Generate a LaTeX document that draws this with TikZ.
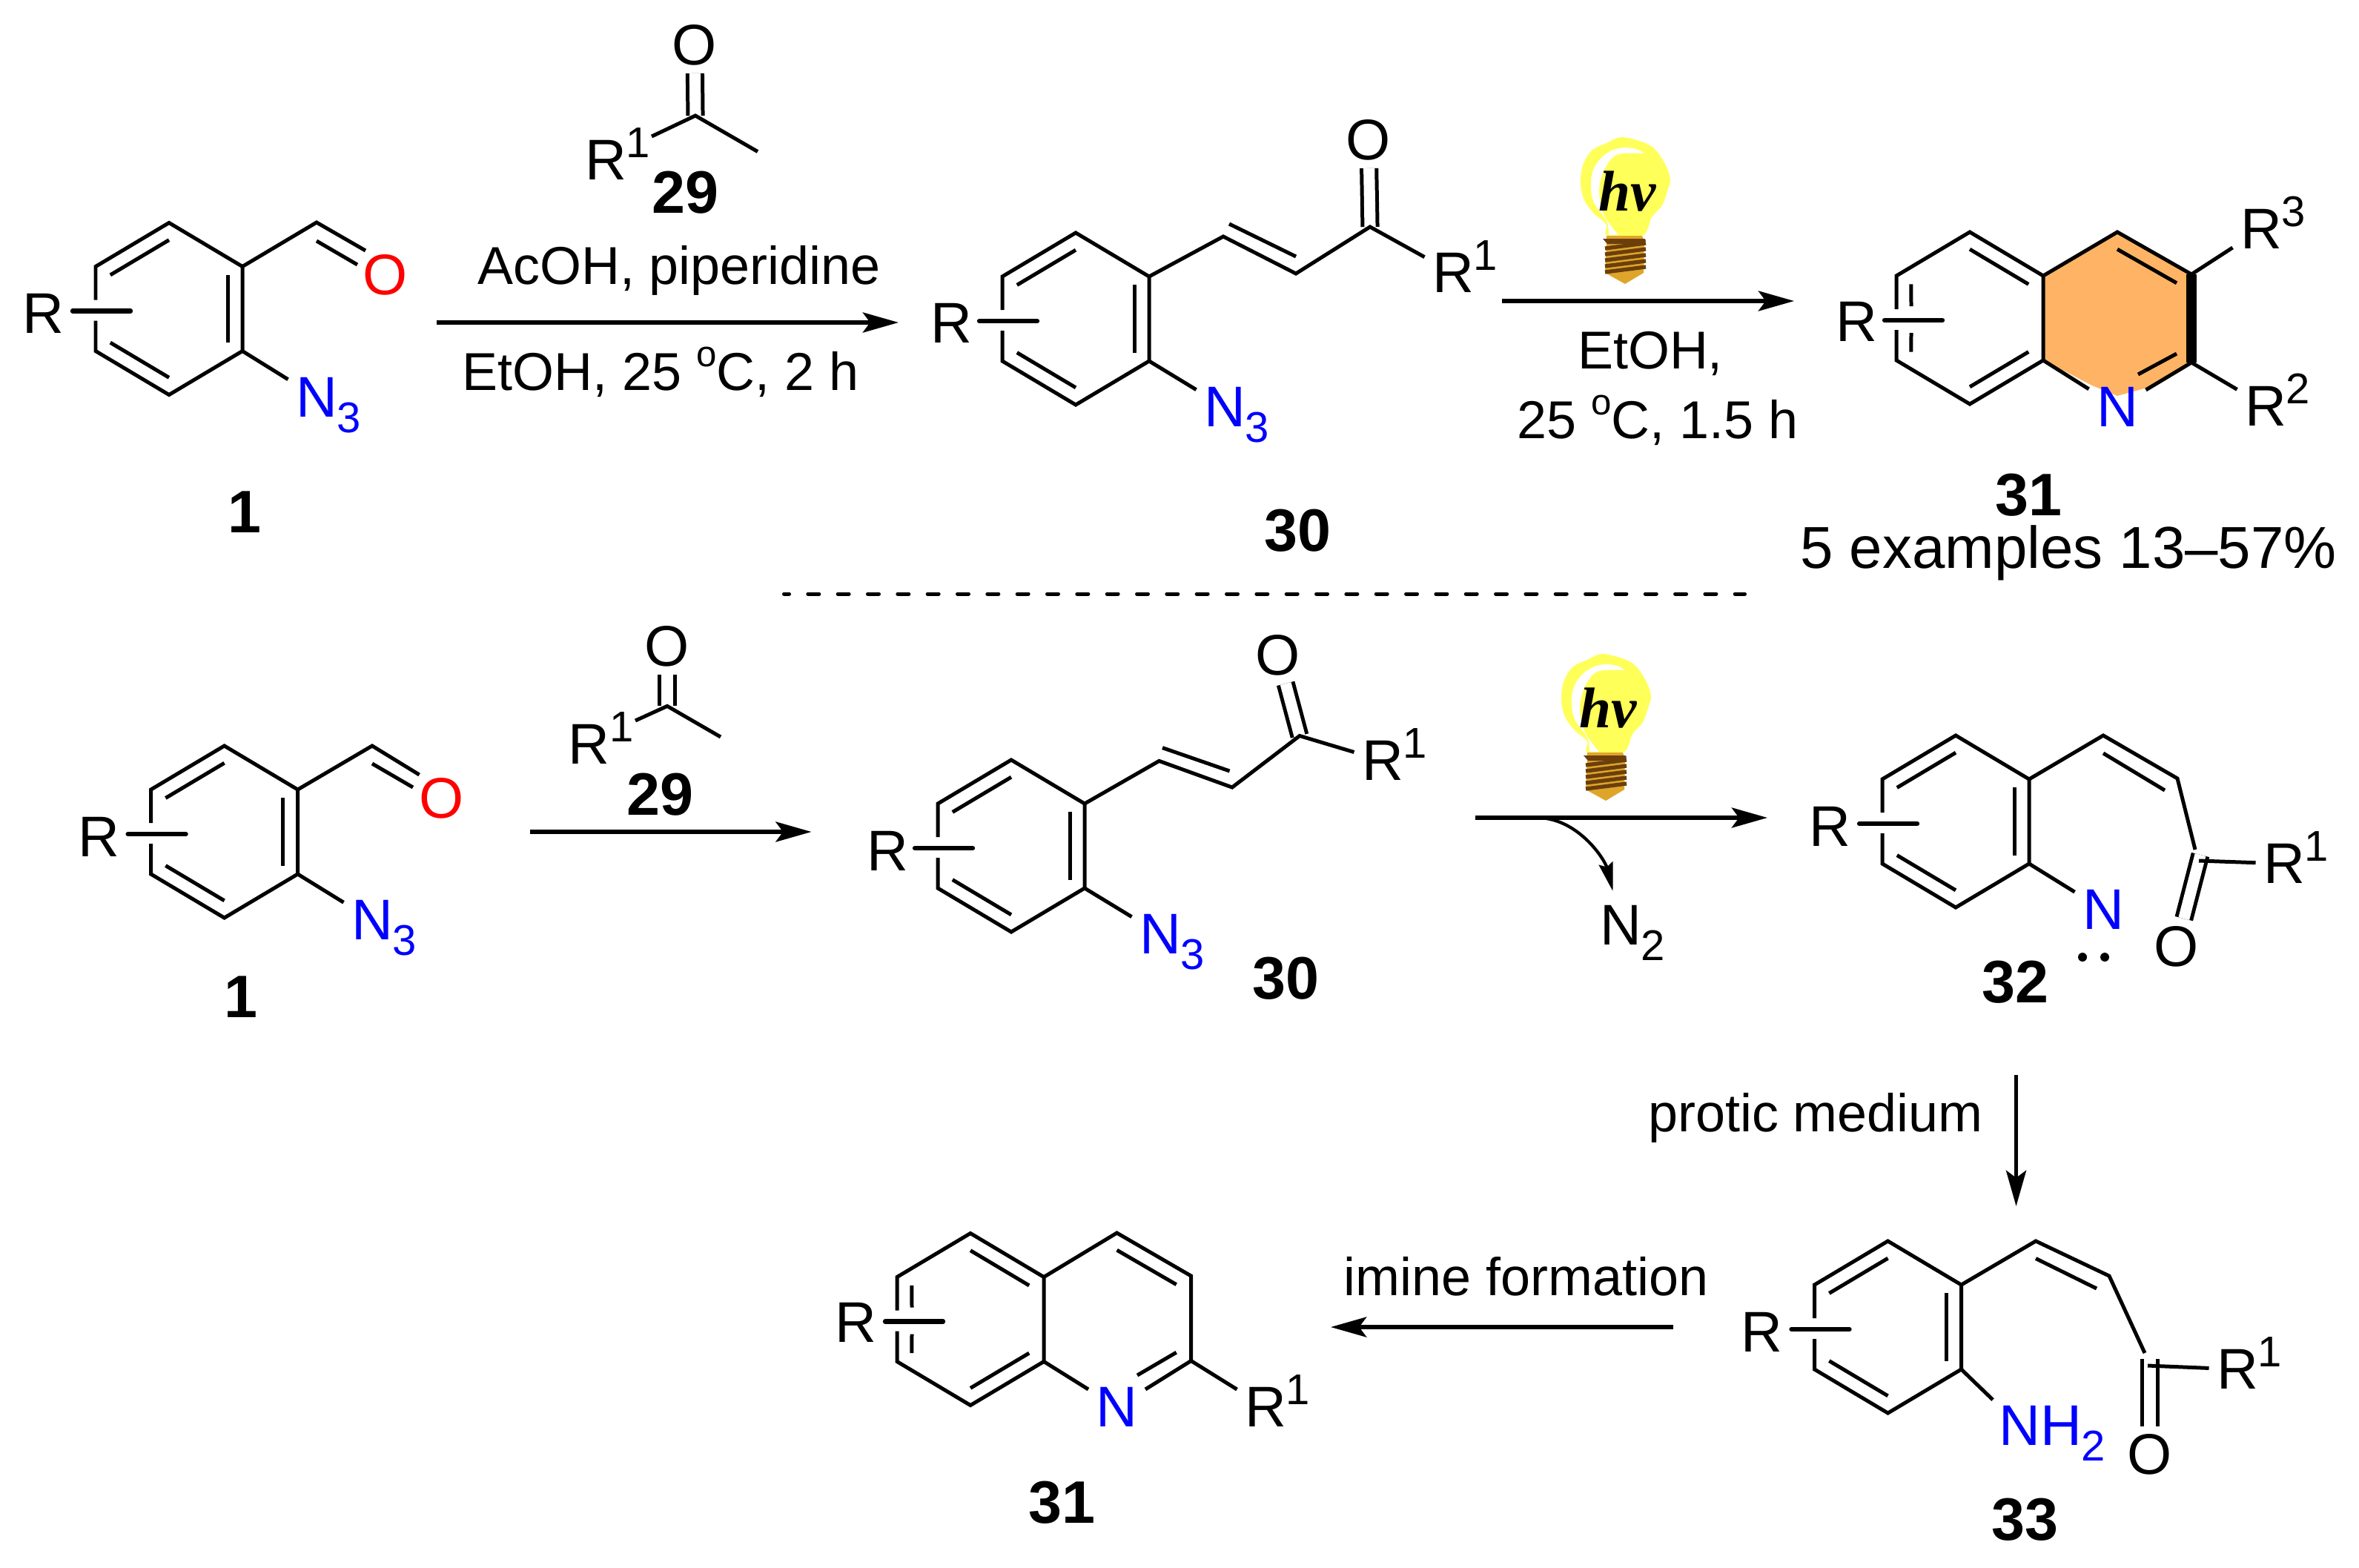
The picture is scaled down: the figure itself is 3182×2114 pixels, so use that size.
\documentclass[tikz,border=0pt]{standalone}
\usepackage{fontspec}
\setmainfont{Liberation Sans}
\newfontfamily\bulbfont{Liberation Serif}
\usetikzlibrary{arrows.meta,calc}
\definecolor{azide}{RGB}{0,0,255}
\definecolor{carbonyl}{RGB}{255,0,0}
\definecolor{quinoline}{RGB}{254,180,100}
\definecolor{bulbglass}{RGB}{255,255,90}
\definecolor{bulbgold}{RGB}{223,165,42}
\definecolor{bulbbrown}{RGB}{107,63,10}
\tikzstyle{bond}=[line width=1.42pt]
\tikzstyle{rbond}=[line width=1.8pt, line cap=round]
\tikzstyle{cbond}=[bond, double, double distance=4.3pt]
\tikzstyle{atom}=[font=\fontsize{22}{26}\selectfont, inner sep=0pt, outer sep=3pt]
\tikzstyle{nitrogen}=[atom, text=azide]
\tikzstyle{oxygen}=[atom, text=carbonyl]
\tikzstyle{cpd}=[font=\fontsize{23}{26}\selectfont\bfseries, inner sep=0pt]
\tikzstyle{cond}=[font=\fontsize{20.45}{24}\selectfont, inner sep=0pt, anchor=base]
\tikzstyle{yield}=[font=\fontsize{22.7}{26}\selectfont, inner sep=0pt, anchor=base]
\tikzstyle{rxn}=[line width=1.5pt, -{Stealth[length=13.7pt, width=7.7pt, inset=2.8pt]}]
\tikzstyle{loss}=[line width=1.2pt, -{Stealth[length=11pt, width=5.5pt, inset=1.5pt]}]
\tikzstyle{pair}=[circle, fill=black, minimum size=3.4pt, inner sep=0pt]
\newcommand{\supr}[1]{\rlap{\smash{\raisebox{8.5pt}{\fontsize{16.5}{16.5}\selectfont #1}}}}
\newcommand{\subr}[1]{\rlap{\smash{\raisebox{-6pt}{\fontsize{16.5}{16.5}\selectfont #1}}}}
\newcommand{\degc}{\raisebox{9pt}{\fontsize{14}{14}\selectfont o}C}
\newcommand{\innerbond}[3]{\draw[bond] ($(#1)!.2!(#3)$) -- ($(#2)!.2!(#3)$);}
\newcommand{\arene}[4]{
    \coordinate (#1c) at (#2,#3);
    \coordinate (#1t) at (#2,#3-116);
    \coordinate (#1u) at (#2+99,#3-57);
    \coordinate (#1d) at (#2+99,#3+57);
    \coordinate (#1b) at (#2,#3+116);
    \coordinate (#1l) at (#2-99,#3+57);
    \coordinate (#1v) at (#2-99,#3-57);
    \coordinate (#1p) at (#2-99,#3-12);
    \coordinate (#1q) at (#2-99,#3+16);
    \coordinate (#1e) at (#2-130+#4,#3+3);
    \coordinate (#1f) at (#2-52+#4,#3+3);
    \draw[bond] (#1p) -- (#1v) -- (#1t) -- (#1u) -- (#1d) -- (#1b) -- (#1l) -- (#1q);
    \draw[rbond] (#1e) -- (#1f);
}
\tikzset{
    bulb/.pic={
        \fill[bulbglass] plot[smooth cycle, tension=0.55] coordinates {(-5,-100) (25,-93) (41,-83) (55,-62) (61,-43) (58,-30) (50,-8) (36,8) (23,33) (-24,33) (-25,18) (-42,3) (-55,-15) (-60,-37) (-57,-62) (-45,-82) (-25,-92)};
        \fill[white] plot[smooth, tension=0.6] coordinates {(-9,32) (-27,8) (-34,-15) (-34,-38) (-25,-62) (-9,-77) (26,-78)} -- plot[smooth, tension=0.6] coordinates {(18,-83) (-2,-86) (-25,-78) (-42,-58) (-46,-35) (-42,-12) (-25,13) (-22,32)} -- cycle;
        \fill[bulbgold] (-25,33) -- (23,33) -- (26,42) -- (25,83) -- (0,98) -- (-27,83) -- (-25,42) -- cycle;
        \fill[bulbbrown] (-30,37) -- (26,37) -- (28,39) -- (25,44) -- (-24,44) -- cycle;
        \foreach \t in {50,58,66,74,82} {
            \draw[bulbbrown, line width=1.5pt] (-27,\t) -- (28,\t-7);
        }
        \node[font=\fontsize{22}{26}\selectfont\bulbfont\bfseries\itshape, inner sep=0pt] (-hv) at (3,-27) {hv};
    }
}
\begin{document}
\begin{tikzpicture}[x=0.01cm, y=-0.01cm]
    \path[use as bounding box] (0,0) rectangle (3182,2114);
    \fill[quinoline] (2757,371) -- (2856,313) -- (2956,370) -- (2956,489) -- (2896,523) -- (2856,534) -- (2822,520) -- (2757,486) -- cycle;

    \arene{a1}{228}{416.5}{0}
    \innerbond{a1v}{a1t}{a1c}
    \innerbond{a1u}{a1d}{a1c}
    \innerbond{a1l}{a1b}{a1c}
    \node[atom] (a1r) at (58,423) {R};
    \coordinate (a1k) at (427,300);
    \coordinate (a1x) at (493,338);
    \coordinate (a1y) at (427,325);
    \coordinate (a1z) at (482,357);
    \node[oxygen] (a1o) at (520,371) {O};
    \node[nitrogen] (a1n) at (427,535.6) {N\subr{3}};
    \draw[bond] (a1u) -- (a1k) -- (a1x);
    \draw[bond] (a1y) -- (a1z);
    \draw[bond] (a1d) -- (a1n);
    \node[cpd] (a1l1) at (330,691) {1};

    \coordinate (a29c) at (938,156);
    \coordinate (a29m) at (1022,204.5);
    \coordinate (a29e) at (879,184);
    \node[atom] (a29o) at (937,61) {O};
    \node[atom] (a29r) at (817,216) {R\supr{1}};
    \draw[cbond] (a29c) -- (a29o);
    \draw[bond] (a29e) -- (a29c) -- (a29m);
    \node[cpd] (a29l) at (924,260) {29};

    \node[cond] (c1) at (916,383) {AcOH, piperidine};
    \node[cond] (c2) at (891,526) {EtOH, 25 \degc, 2 h};
    \coordinate (s1) at (589,435);
    \coordinate (t1) at (1212,435);
    \draw[rxn] (s1) -- (t1);

    \arene{a30}{1451}{430}{0}
    \innerbond{a30v}{a30t}{a30c}
    \innerbond{a30u}{a30d}{a30c}
    \innerbond{a30l}{a30b}{a30c}
    \node[atom] (a30r) at (1283,436) {R};
    \coordinate (a30g) at (1650,319);
    \coordinate (a30h) at (1748,369);
    \coordinate (a30k) at (1848,306);
    \coordinate (a30x) at (1658,302);
    \coordinate (a30y) at (1748,346);
    \node[atom] (a30o) at (1846,189) {O};
    \node[atom] (a30s) at (1960,368) {R\supr{1}};
    \node[nitrogen] (a30n) at (1652,549) {N\subr{3}};
    \draw[cbond] (a30k) -- (a30o);
    \draw[bond] (a30u) -- (a30g) -- (a30h) -- (a30k) -- (a30s);
    \draw[bond] (a30x) -- (a30y);
    \draw[bond] (a30d) -- (a30n);
    \node[cpd] (a30l1) at (1750,716) {30};

    \pic (h1) at (2192,285) {bulb};
    \coordinate (s2) at (2026,406);
    \coordinate (t2) at (2420,406);
    \draw[rxn] (s2) -- (t2);
    \node[cond] (c3) at (2226,497) {EtOH,};
    \node[cond] (c4) at (2236,591) {25 \degc, 1.5 h};

    \arene{a31}{2657}{429}{15}
    \innerbond{a31t}{a31u}{a31c}
    \innerbond{a31b}{a31d}{a31c}
    \draw[bond] ($(a31v)!.2!(a31c)$) -- ($(a31p)+(20,-4)$);
    \draw[bond] ($(a31l)!.2!(a31c)$) -- ($(a31q)+(20,4)$);
    \node[atom] (a31r) at (2504,434) {R};
    \coordinate (a31g) at (2856,313);
    \coordinate (a31h) at (2956,370);
    \coordinate (a31k) at (2956,489);
    \coordinate (a31w) at (2856,429);
    \coordinate (a31x) at (2884,505);
    \node[nitrogen] (a31n) at (2856,549) {N};
    \node[atom] (a31s) at (3050,309) {R\supr{3}};
    \node[atom] (a31v2) at (3056,548) {R\supr{2}};
    \draw[bond] (a31u) -- (a31g) -- (a31h);
    \draw[line width=4pt] (a31h) -- (a31k);
    \draw[bond] (a31k) -- (a31n);
    \draw[bond] (a31d) -- (a31n);
    \draw[bond] (a31h) -- (a31s);
    \draw[bond] (a31k) -- (a31v2);
    \innerbond{a31g}{a31h}{a31w}
    \draw[bond] ($(a31k)!.2!(a31w)$) -- (a31x);
    \node[cpd] (a31l1) at (2736,668) {31};
    \node[yield] (y1) at (2790,766) {5 examples 13–57\%};

    \coordinate (d1) at (1057.5,801);
    \coordinate (d2) at (2353.5,801);
    \draw[line width=1.42pt, line cap=round, dash pattern=on 4.27pt off 7.2pt, dash phase=2.28pt] (d1) -- (d2);

    \arene{b1}{302.6}{1122}{0}
    \innerbond{b1v}{b1t}{b1c}
    \innerbond{b1u}{b1d}{b1c}
    \innerbond{b1l}{b1b}{b1c}
    \node[atom] (b1r) at (133.7,1129) {R};
    \coordinate (b1k) at (502,1006);
    \coordinate (b1x) at (565.6,1045);
    \coordinate (b1y) at (502,1030);
    \coordinate (b1z) at (557,1062);
    \node[oxygen] (b1o) at (595.7,1077) {O};
    \node[nitrogen] (b1n) at (502,1241) {N\subr{3}};
    \draw[bond] (b1u) -- (b1k) -- (b1x);
    \draw[bond] (b1y) -- (b1z);
    \draw[bond] (b1d) -- (b1n);
    \node[cpd] (b1l1) at (325,1345) {1};

    \coordinate (b29c) at (900,952.4);
    \coordinate (b29m) at (972,994);
    \coordinate (b29e) at (857,972);
    \node[atom] (b29o) at (900,872) {O};
    \node[atom] (b29r) at (794.5,1004) {R\supr{1}};
    \draw[cbond] (b29c) -- (b29o);
    \draw[bond] (b29e) -- (b29c) -- (b29m);
    \node[cpd] (b29l) at (890,1072) {29};
    \coordinate (s3) at (715,1122);
    \coordinate (t3) at (1094.5,1122);
    \draw[rxn] (s3) -- (t3);

    \arene{b30}{1364}{1141}{0}
    \innerbond{b30v}{b30t}{b30c}
    \innerbond{b30u}{b30d}{b30c}
    \innerbond{b30l}{b30b}{b30c}
    \node[atom] (b30r) at (1197,1148) {R};
    \coordinate (b30g) at (1563.5,1026.4);
    \coordinate (b30h) at (1662,1062);
    \coordinate (b30k) at (1753,992.5);
    \coordinate (b30x) at (1568,1008.6);
    \coordinate (b30y) at (1658.6,1040);
    \node[atom] (b30o) at (1724,884) {O};
    \node[atom] (b30s) at (1865,1026) {R\supr{1}};
    \node[nitrogen] (b30n) at (1565,1260) {N\subr{3}};
    \draw[cbond] (b30k) -- (b30o);
    \draw[bond] (b30u) -- (b30g) -- (b30h) -- (b30k) -- (b30s);
    \draw[bond] (b30x) -- (b30y);
    \draw[bond] (b30d) -- (b30n);
    \node[cpd] (b30l1) at (1734,1320) {30};

    \pic (h2) at (2166,982) {bulb};
    \coordinate (s4) at (1990,1103);
    \coordinate (t4) at (2384,1103);
    \coordinate (s5) at (2076,1103);
    \coordinate (t5) at (2175.5,1202);
    \draw[rxn] (s4) -- (t4);
    \draw[loss] (s5) .. controls (2130,1105) and (2165,1160) .. (t5);
    \node[atom] (n2) at (2186,1248) {N\subr{2}};

    \arene{b32}{2638}{1108}{0}
    \innerbond{b32v}{b32t}{b32c}
    \innerbond{b32u}{b32d}{b32c}
    \innerbond{b32l}{b32b}{b32c}
    \node[atom] (b32r) at (2468,1115) {R};
    \coordinate (b32g) at (2837,992);
    \coordinate (b32h) at (2937,1050);
    \coordinate (b32k) at (2961,1146);
    \coordinate (b32j) at (2968,1153);
    \coordinate (b32m) at (2966,1161);
    \coordinate (b32x) at (2837,1016);
    \coordinate (b32y) at (2920,1066);
    \node[atom] (b32o) at (2936,1277) {O};
    \node[atom] (b32s) at (3081,1165) {R\supr{1}};
    \node[nitrogen] (b32n) at (2837,1227) {N};
    \node[pair] (b32p1) at (2809,1291) {};
    \node[pair] (b32p2) at (2839,1291) {};
    \draw[cbond] (b32j) -- (b32o);
    \draw[bond] (b32u) -- (b32g) -- (b32h) -- (b32k);
    \draw[bond] (b32m) -- (b32s);
    \draw[bond] (b32x) -- (b32y);
    \draw[bond] (b32d) -- (b32n);
    \node[cpd] (b32l1) at (2718,1325) {32};

    \node[cond] (c5) at (2449,1526) {protic medium};
    \coordinate (s6) at (2719.5,1450);
    \coordinate (t6) at (2719.5,1627);
    \draw[rxn] (s6) -- (t6);

    \arene{b33}{2546.5}{1790}{0}
    \innerbond{b33v}{b33t}{b33c}
    \innerbond{b33u}{b33d}{b33c}
    \innerbond{b33l}{b33b}{b33c}
    \node[atom] (b33r) at (2376,1797) {R};
    \coordinate (b33g) at (2746,1674);
    \coordinate (b33h) at (2845,1721);
    \coordinate (b33k) at (2893,1825);
    \coordinate (b33j) at (2900,1833);
    \coordinate (b33m) at (2897,1842);
    \coordinate (b33e) at (2688,1888);
    \coordinate (b33x) at (2746,1697.5);
    \coordinate (b33y) at (2828,1738);
    \node[atom] (b33o) at (2900,1961.5) {O};
    \node[atom] (b33s) at (3018,1847) {R\supr{1}};
    \node[nitrogen] (b33n) at (2752,1923) {NH\subr{2}};
    \draw[cbond] (b33j) -- (b33o);
    \draw[bond] (b33u) -- (b33g) -- (b33h) -- (b33k);
    \draw[bond] (b33m) -- (b33s);
    \draw[bond] (b33x) -- (b33y);
    \draw[bond] (b33d) -- (b33e);
    \node[cpd] (b33l1) at (2731,2050) {33};

    \node[cond] (c6) at (2058.5,1747) {imine formation};
    \coordinate (s7) at (2257,1790);
    \coordinate (t7) at (1795,1790);
    \draw[rxn] (s7) -- (t7);

    \arene{b31}{1309}{1779.5}{15}
    \innerbond{b31t}{b31u}{b31c}
    \innerbond{b31b}{b31d}{b31c}
    \draw[bond] ($(b31v)!.2!(b31c)$) -- ($(b31p)+(20,-4)$);
    \draw[bond] ($(b31l)!.2!(b31c)$) -- ($(b31q)+(20,4)$);
    \node[atom] (b31r) at (1154,1784) {R};
    \coordinate (b31g) at (1506.5,1663);
    \coordinate (b31h) at (1606.6,1721);
    \coordinate (b31k) at (1606.6,1835.5);
    \coordinate (b31w) at (1507,1779);
    \coordinate (b31x) at (1534,1855);
    \node[nitrogen] (b31n) at (1506.5,1898) {N};
    \node[atom] (b31s) at (1707,1898) {R\supr{1}};
    \draw[bond] (b31u) -- (b31g) -- (b31h) -- (b31k) -- (b31n);
    \draw[bond] (b31d) -- (b31n);
    \draw[bond] (b31k) -- (b31s);
    \innerbond{b31g}{b31h}{b31w}
    \draw[bond] ($(b31k)!.2!(b31w)$) -- (b31x);
    \node[cpd] (b31l1) at (1432,2026.5) {31};
\end{tikzpicture}
\end{document}
